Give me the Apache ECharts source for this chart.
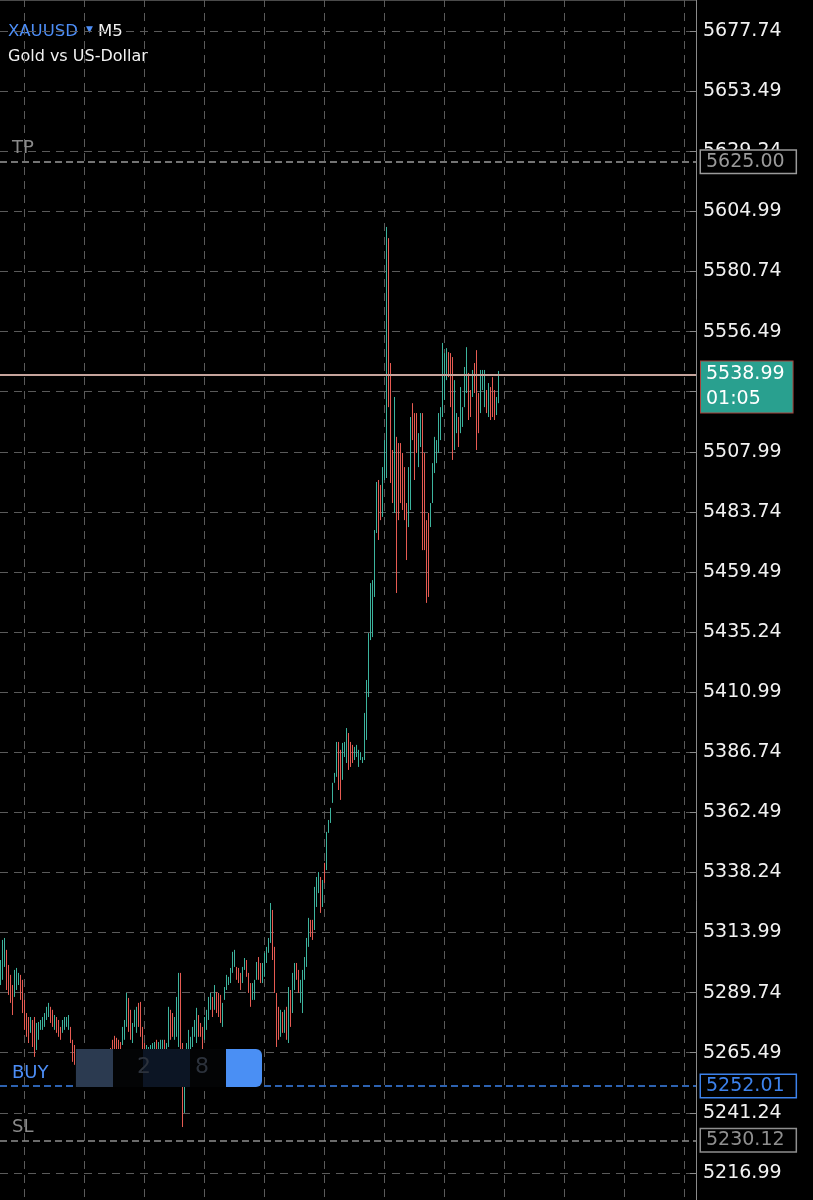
<!DOCTYPE html>
<html>
<head>
<meta charset="utf-8">
<title>XAUUSD M5</title>
<script src="https://cdn.jsdelivr.net/npm/echarts@6/dist/echarts.min.js"></script>
<style>
  html, body { margin: 0; padding: 0; background: #000; }
  #chart { width: 813px; height: 1200px; }
</style>
</head>
<body>
<div id="chart"></div>
<script>
// M5 bars, [open, close, low, high]
const candles = [
  // left, before the overlay
  [5292.8, 5302.9, 5292.8, 5302.9], [5294.9, 5311.0, 5294.9, 5311.0], [5300.1, 5311.8, 5300.1, 5311.8],
  [5307.0, 5290.8, 5290.8, 5307.0], [5300.9, 5288.8, 5288.8, 5300.9], [5296.9, 5285.6, 5285.6, 5296.9],
  [5292.8, 5280.7, 5280.7, 5292.8], [5288.0, 5298.9, 5288.0, 5298.9], [5290.8, 5299.7, 5290.8, 5299.7],
  [5292.8, 5297.7, 5292.8, 5297.7], [5296.9, 5286.8, 5286.8, 5296.9], [5294.9, 5281.5, 5281.5, 5294.9],
  [5286.8, 5274.7, 5274.7, 5286.8], [5281.5, 5271.9, 5271.9, 5281.5], [5279.9, 5269.4, 5269.4, 5279.9],
  [5273.5, 5279.9, 5273.5, 5279.9], [5278.7, 5267.8, 5267.8, 5278.7], [5279.9, 5263.8, 5263.8, 5279.9],
  [5266.6, 5277.5, 5266.6, 5277.5], [5270.7, 5277.9, 5270.7, 5277.9], [5274.7, 5278.7, 5274.7, 5278.7],
  [5274.7, 5279.9, 5274.7, 5279.9], [5275.9, 5281.5, 5275.9, 5281.5], [5278.7, 5284.0, 5278.7, 5284.0],
  [5279.9, 5285.6, 5279.9, 5285.6], [5284.0, 5277.5, 5277.5, 5284.0], [5282.8, 5275.9, 5275.9, 5282.8],
  [5274.7, 5280.7, 5274.7, 5280.7], [5279.9, 5273.5, 5273.5, 5279.9], [5278.7, 5271.9, 5271.9, 5278.7],
  [5275.9, 5270.7, 5270.7, 5275.9], [5273.5, 5278.7, 5273.5, 5278.7], [5274.7, 5279.9, 5274.7, 5279.9],
  [5275.9, 5279.9, 5275.9, 5279.9], [5274.7, 5280.7, 5274.7, 5280.7], [5275.9, 5269.4, 5269.4, 5275.9],
  [5270.7, 5261.8, 5261.8, 5270.7],
  // under the trade overlay
  [5268.6, 5260.6, 5260.6, 5268.6], [5265.8, 5258.6, 5258.6, 5265.8], [5259.4, 5264.6, 5259.4, 5264.6],
  [5263.4, 5256.5, 5256.5, 5263.4], [5258.6, 5264.2, 5258.6, 5264.2], [5260.6, 5265.8, 5260.6, 5265.8],
  [5265.0, 5257.7, 5257.7, 5265.0], [5262.6, 5255.3, 5255.3, 5262.6], [5256.5, 5261.8, 5256.5, 5261.8],
  [5258.6, 5263.4, 5258.6, 5263.4], [5263.4, 5256.9, 5256.9, 5263.4], [5259.4, 5264.6, 5259.4, 5264.6],
  [5261.0, 5265.8, 5261.0, 5265.8], [5265.4, 5259.4, 5259.4, 5265.4], [5263.4, 5256.1, 5256.1, 5263.4],
  [5257.7, 5262.6, 5257.7, 5262.6], [5259.4, 5264.6, 5259.4, 5264.6], [5261.8, 5266.6, 5261.8, 5266.6],
  [5267.4, 5262.6, 5262.6, 5267.4], [5270.7, 5263.4, 5263.4, 5270.7], [5272.3, 5263.4, 5263.4, 5272.3],
  [5271.5, 5262.6, 5262.6, 5271.5], [5270.7, 5261.8, 5261.8, 5270.7], [5269.8, 5263.4, 5263.4, 5269.8],
  // base
  [5268.6, 5275.9, 5268.6, 5275.9], [5270.7, 5278.7, 5270.7, 5278.7], [5275.9, 5289.6, 5275.9, 5289.6],
  [5287.6, 5273.9, 5273.9, 5287.6], [5282.8, 5270.7, 5270.7, 5282.8], [5269.4, 5277.5, 5269.4, 5277.5],
  [5275.9, 5282.8, 5275.9, 5282.8], [5273.5, 5284.0, 5273.5, 5284.0], [5285.6, 5275.9, 5275.9, 5285.6],
  [5286.0, 5271.9, 5271.9, 5286.0], [5275.9, 5262.6, 5262.6, 5275.9], [5269.4, 5261.4, 5261.4, 5269.4],
  [5263.8, 5268.6, 5263.8, 5268.6], [5264.2, 5267.8, 5264.2, 5267.8], [5263.8, 5268.6, 5263.8, 5268.6],
  [5263.8, 5269.4, 5263.8, 5269.4], [5265.4, 5269.8, 5265.4, 5269.8], [5270.7, 5265.8, 5265.8, 5270.7],
  [5265.4, 5269.8, 5265.4, 5269.8], [5265.4, 5270.7, 5265.4, 5270.7], [5265.8, 5270.7, 5265.8, 5270.7],
  [5270.7, 5266.6, 5266.6, 5270.7], [5266.6, 5269.4, 5266.6, 5269.4], [5267.8, 5284.0, 5267.8, 5284.0],
  [5282.8, 5270.7, 5270.7, 5282.8], [5281.5, 5271.9, 5271.9, 5281.5], [5270.7, 5279.9, 5270.7, 5279.9],
  [5271.9, 5288.0, 5271.9, 5288.0], [5267.8, 5297.7, 5267.8, 5297.7], [5297.7, 5262.6, 5262.6, 5297.7],
  [5269.4, 5248.5, 5235.5, 5269.4], [5243.2, 5262.6, 5241.2, 5263.4], [5262.6, 5269.4, 5262.6, 5269.4],
  [5266.6, 5274.7, 5266.6, 5274.7], [5266.6, 5271.9, 5266.6, 5271.9], [5267.8, 5275.9, 5267.8, 5275.9],
  [5271.9, 5278.7, 5271.9, 5278.7], [5269.4, 5283.6, 5269.4, 5283.6], [5280.7, 5271.9, 5271.9, 5280.7],
  [5277.5, 5271.9, 5271.9, 5277.5], [5275.9, 5266.6, 5266.6, 5275.9], [5270.7, 5279.9, 5270.7, 5279.9],
  [5274.7, 5282.8, 5274.7, 5282.8], [5278.7, 5288.0, 5278.7, 5288.0], [5282.8, 5289.6, 5282.8, 5289.6],
  [5288.0, 5279.9, 5279.9, 5288.0], [5282.8, 5292.8, 5282.8, 5292.8], [5290.0, 5281.5, 5281.5, 5290.0],
  [5289.6, 5279.9, 5279.9, 5289.6], [5288.8, 5277.5, 5277.5, 5288.8], [5275.9, 5285.6, 5275.9, 5285.6],
  [5286.8, 5292.0, 5286.8, 5292.0], [5290.8, 5296.9, 5290.8, 5296.9], [5292.8, 5296.1, 5292.8, 5296.1],
  [5293.6, 5299.7, 5293.6, 5299.7], [5297.7, 5306.2, 5297.7, 5306.2], [5300.1, 5307.0, 5300.1, 5307.0],
  [5300.1, 5294.9, 5294.9, 5300.1], [5299.7, 5293.6, 5293.6, 5299.7], [5297.7, 5290.8, 5290.8, 5297.7],
  [5293.6, 5300.1, 5293.6, 5300.1], [5298.9, 5303.7, 5298.9, 5303.7], [5302.9, 5296.1, 5296.1, 5302.9],
  [5297.7, 5289.6, 5289.6, 5297.7], [5293.6, 5284.0, 5284.0, 5293.6], [5286.8, 5293.6, 5286.8, 5293.6],
  [5286.8, 5294.9, 5286.8, 5294.9], [5294.9, 5302.1, 5294.9, 5302.1], [5304.1, 5294.9, 5294.9, 5304.1],
  [5301.7, 5293.6, 5293.6, 5301.7], [5293.6, 5301.7, 5293.6, 5301.7], [5296.1, 5305.8, 5296.1, 5305.8],
  [5301.7, 5308.2, 5301.7, 5308.2], [5305.8, 5311.8, 5305.8, 5311.8], [5309.8, 5325.9, 5309.8, 5325.9],
  [5323.1, 5302.9, 5302.9, 5323.1], [5308.2, 5289.6, 5289.6, 5308.2], [5289.6, 5267.8, 5267.8, 5289.6],
  [5284.0, 5270.7, 5270.7, 5284.0], [5271.9, 5282.8, 5271.9, 5282.8], [5281.9, 5273.5, 5273.5, 5281.9],
  [5273.5, 5282.8, 5273.5, 5282.8], [5284.0, 5270.7, 5270.7, 5284.0], [5269.4, 5292.0, 5269.4, 5292.0],
  [5290.8, 5275.9, 5275.9, 5290.8], [5281.5, 5297.7, 5281.5, 5297.7], [5290.8, 5301.7, 5290.8, 5301.7],
  [5301.7, 5294.9, 5294.9, 5301.7], [5298.9, 5289.6, 5289.6, 5298.9], [5285.6, 5294.9, 5285.6, 5294.9],
  [5281.5, 5298.9, 5281.5, 5298.9], [5294.9, 5304.1, 5294.9, 5304.1], [5300.1, 5311.8, 5300.1, 5311.8],
  [5308.2, 5319.9, 5308.2, 5319.9], [5319.1, 5312.2, 5312.2, 5319.1], [5319.1, 5311.0, 5311.0, 5319.1],
  [5315.0, 5332.4, 5315.0, 5332.4], [5324.3, 5336.4, 5324.3, 5336.4], [5329.9, 5338.4, 5329.9, 5338.4],
  [5336.4, 5321.9, 5321.9, 5336.4],
  // rally
  [5324.3, 5335.2, 5324.3, 5335.2], [5342.1, 5334.0, 5334.0, 5342.1], [5339.2, 5354.6, 5339.2, 5354.6],
  [5354.2, 5359.4, 5354.2, 5359.4], [5358.2, 5364.3, 5358.2, 5364.3], [5366.3, 5374.4, 5366.3, 5374.4],
  [5374.4, 5378.4, 5374.4, 5378.4], [5376.8, 5390.9, 5376.8, 5390.9], [5390.9, 5371.5, 5371.5, 5390.9],
  [5387.7, 5367.5, 5367.5, 5387.7], [5375.6, 5390.5, 5375.6, 5390.5], [5384.8, 5390.9, 5384.8, 5390.9],
  [5382.4, 5396.5, 5382.4, 5396.5], [5394.5, 5379.6, 5379.6, 5394.5], [5390.9, 5380.8, 5380.8, 5390.9],
  [5389.7, 5382.4, 5382.4, 5389.7], [5383.6, 5388.9, 5383.6, 5388.9], [5384.8, 5389.7, 5384.8, 5389.7],
  [5380.8, 5387.7, 5380.8, 5387.7], [5383.6, 5386.8, 5383.6, 5386.8], [5382.4, 5384.8, 5382.4, 5384.8],
  [5383.6, 5402.6, 5383.6, 5402.6], [5391.7, 5415.9, 5391.7, 5415.9], [5409.0, 5434.8, 5409.0, 5434.8],
  [5432.0, 5455.0, 5432.0, 5455.0], [5433.2, 5456.2, 5433.2, 5456.2], [5449.4, 5476.4, 5449.4, 5476.4],
  [5475.2, 5495.8, 5475.2, 5495.8], [5496.6, 5472.4, 5472.4, 5496.6], [5494.6, 5480.4, 5480.4, 5494.6],
  [5481.7, 5501.8, 5481.7, 5501.8], [5496.6, 5512.7, 5496.6, 5512.7],
  // spike and range
  [5500.6, 5589.0, 5497.4, 5598.7], [5589.0, 5527.0, 5526.0, 5594.2], [5543.8, 5495.4, 5495.4, 5543.8],
  [5508.7, 5487.3, 5487.3, 5508.7], [5483.3, 5530.1, 5483.3, 5530.1], [5514.0, 5451.0, 5451.0, 5514.0],
  [5511.5, 5480.4, 5480.4, 5511.5], [5511.5, 5487.3, 5487.3, 5511.5], [5507.5, 5484.5, 5484.5, 5507.5],
  [5501.8, 5480.4, 5480.4, 5501.8], [5487.3, 5464.3, 5464.3, 5487.3], [5477.6, 5501.8, 5477.6, 5501.8],
  [5484.5, 5522.0, 5484.5, 5522.0], [5527.6, 5512.7, 5512.7, 5527.6], [5523.6, 5496.6, 5496.6, 5523.6],
  [5523.6, 5507.5, 5507.5, 5523.6], [5501.8, 5515.5, 5501.8, 5515.5], [5509.9, 5523.6, 5509.9, 5523.6],
  [5523.6, 5468.3, 5468.3, 5523.6], [5507.5, 5468.3, 5468.3, 5507.5], [5480.4, 5447.0, 5447.0, 5480.4],
  [5483.3, 5449.4, 5449.4, 5483.3], [5477.6, 5487.3, 5477.6, 5487.3], [5487.3, 5503.4, 5487.3, 5503.4],
  [5499.4, 5514.0, 5499.4, 5514.0], [5503.4, 5512.7, 5503.4, 5512.7], [5507.5, 5523.6, 5507.5, 5523.6],
  [5512.7, 5526.0, 5512.7, 5526.0], [5522.0, 5551.9, 5522.0, 5551.9], [5528.9, 5547.8, 5528.9, 5547.8],
  [5536.9, 5549.8, 5536.9, 5549.8], [5548.2, 5538.1, 5538.1, 5548.2], [5547.8, 5526.0, 5526.0, 5547.8],
  [5546.2, 5504.7, 5504.7, 5546.2], [5508.7, 5536.9, 5508.7, 5536.9], [5515.5, 5523.6, 5515.5, 5523.6],
  [5522.0, 5509.9, 5509.9, 5522.0], [5515.5, 5534.1, 5515.5, 5534.1], [5518.0, 5526.0, 5518.0, 5526.0],
  [5526.0, 5542.2, 5526.0, 5542.2], [5531.7, 5550.2, 5531.7, 5550.2], [5539.8, 5520.8, 5520.8, 5539.8],
  [5532.9, 5522.0, 5522.0, 5532.9], [5530.1, 5541.0, 5530.1, 5541.0], [5543.8, 5531.7, 5531.7, 5543.8],
  [5549.0, 5508.7, 5508.7, 5549.0], [5531.7, 5515.5, 5515.5, 5531.7], [5523.6, 5541.0, 5523.6, 5541.0],
  [5532.9, 5541.0, 5532.9, 5541.0], [5526.0, 5541.0, 5526.0, 5541.0], [5532.9, 5523.6, 5523.6, 5532.9],
  [5522.0, 5535.7, 5522.0, 5535.7], [5534.1, 5520.8, 5520.8, 5534.1], [5538.1, 5522.0, 5522.0, 5538.1],
  [5532.9, 5520.8, 5520.8, 5532.9], [5522.8, 5530.1, 5522.8, 5530.1], [5527.6, 5538.99, 5527.6, 5540.6]
];

// empty bar slots on the right side of the chart
const slotCount = 348;
const slots = Array.from({ length: slotCount }, (_, i) => i);

// price scale
const priceMin = 5192.74;
const priceMax = 5701.99;
const priceStep = 24.25;

// order levels
const tpPrice = 5625.00;
const buyPrice = 5252.01;
const slPrice = 5230.12;
const lastPrice = 5538.99;
const barTimer = '01:05';

const upColor = '#3cb39d';
const downColor = '#e65b52';
const gridColor = '#5a5a5a';
const font = 'DejaVu Sans';

const chart = echarts.init(document.getElementById('chart'));

const levelLine = (value, color, name, nameColor) => [
  {
    yAxis: value,
    lineStyle: { color: color, type: [7, 4], width: 1.5 },
    label: {
      position: 'end',
      distance: 5,
      formatter: (p) => p.value.toFixed(2),
      color: color,
      fontFamily: font,
      fontSize: 19,
      backgroundColor: '#000',
      borderColor: color,
      borderWidth: 1.5,
      padding: [2, 11, 1, 5]
    }
  },
  {
    yAxis: value,
    lineStyle: { color: 'rgba(0,0,0,0)', width: 0 },
    label: {
      position: 'insideStartTop',
      distance: [12, 4],
      formatter: name,
      color: nameColor,
      fontFamily: font,
      fontSize: 18
    }
  }
];

const option = {
  backgroundColor: '#000',
  animation: false,
  grid: { left: 0, right: 117, top: -29, height: 1262, containLabel: false, outerBoundsMode: 'none' },
  xAxis: {
    type: 'category',
    data: slots,
    boundaryGap: true,
    axisLine: { show: false },
    axisTick: { show: false },
    axisLabel: { show: false },
    splitLine: {
      show: true,
      interval: (i) => i >= 12 && (i - 12) % 30 === 0,
      lineStyle: { color: gridColor, type: [8, 6], width: 1 }
    }
  },
  yAxis: {
    type: 'value',
    position: 'right',
    min: priceMin,
    max: priceMax,
    interval: priceStep,
    axisLine: { show: true, lineStyle: { color: '#8a8a8a', width: 1 } },
    axisTick: { show: true, inside: true, length: 6, lineStyle: { color: '#8a8a8a' } },
    axisLabel: {
      color: '#f2f2f2',
      fontFamily: font,
      fontSize: 19,
      margin: 7,
      formatter: (v) => v.toFixed(2)
    },
    splitLine: { show: true, lineStyle: { color: gridColor, type: [8, 6], width: 1 } }
  },
  graphic: [
    { type: 'line', shape: { x1: 0, y1: 0.5, x2: 696, y2: 0.5 }, style: { stroke: '#4a4a4a', lineWidth: 1 } },
    { type: 'text', x: 8, y: 23, style: { text: 'XAUUSD', fill: '#4d8ef7', font: '16.5px "DejaVu Sans"' } },
    { type: 'text', x: 86, y: 25, style: { text: '▼', fill: '#4d8ef7', font: '9px "DejaVu Sans"' } },
    { type: 'text', x: 98, y: 23, style: { text: 'M5', fill: '#f2f2f2', font: '16.5px "DejaVu Sans"' } },
    { type: 'text', x: 8, y: 49, style: { text: 'Gold vs US-Dollar', fill: '#f2f2f2', font: '16px "DejaVu Sans"' } },
    // blurred trade label
    { type: 'rect', z: 100, shape: { x: 75, y: 1049, width: 187, height: 38 }, style: { fill: '#030405' } },
    { type: 'rect', z: 101, shape: { x: 76, y: 1049, width: 37, height: 38 }, style: { fill: '#2b3a50' } },
    { type: 'rect', z: 101, shape: { x: 143, y: 1049, width: 47, height: 38 }, style: { fill: '#0c1524' } },
    { type: 'rect', z: 101, shape: { x: 226, y: 1049, width: 36, height: 38, r: [0, 6, 6, 0] }, style: { fill: '#4a8ff4' } },
    { type: 'text', z: 102, x: 137, y: 1056, style: { text: '2', fill: '#2c323c', font: '22px "DejaVu Sans"' } },
    { type: 'text', z: 102, x: 195, y: 1056, style: { text: '8', fill: '#2c323c', font: '22px "DejaVu Sans"' } }
  ],
  series: [
    {
      type: 'candlestick',
      data: candles,
      barWidth: 1,
      itemStyle: {
        color: upColor,
        color0: downColor,
        borderColor: upColor,
        borderColor0: downColor,
        borderWidth: 1
      },
      markLine: {
        symbol: ['none', 'none'],
        silent: true,
        data: [
          ...levelLine(tpPrice, '#9a9a9a', 'TP', '#8a8a8a'),
          ...levelLine(slPrice, '#8f8f8f', 'SL', '#8a8a8a'),
          ...levelLine(buyPrice, '#3d82ec', 'BUY', '#4d8ef7'),
          {
            yAxis: lastPrice,
            lineStyle: { color: '#c6a49c', type: 'solid', width: 2 },
            label: {
              position: 'end',
              distance: 5,
              offset: [0, 12],
              formatter: (p) => p.value.toFixed(2) + '\n' + barTimer,
              color: '#ffffff',
              fontFamily: font,
              fontSize: 19,
              lineHeight: 25,
              backgroundColor: '#29a08f',
              borderColor: '#a8423d',
              borderWidth: 1,
              padding: [1, 8, 0, 5]
            }
          }
        ]
      }
    }
  ]
};

chart.setOption(option);
</script>
</body>
</html>
